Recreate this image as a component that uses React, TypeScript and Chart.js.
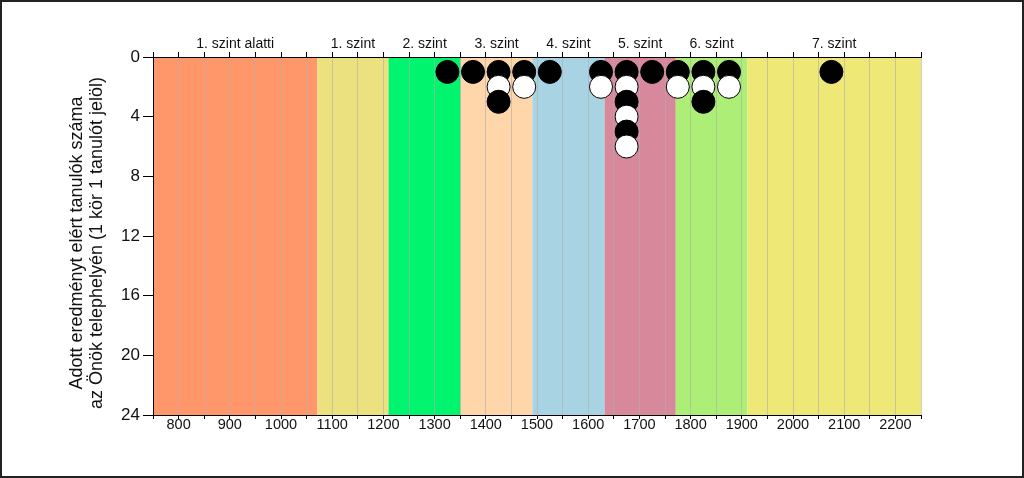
import React, { useEffect, useRef } from 'react';
import { Chart, registerables } from 'chart.js';

Chart.register(...registerables);

const FONT = "'Liberation Sans', Arial, Helvetica, sans-serif";

// Achievement level bands (x = score)
const bandLabels = ['1. szint alatti', '1. szint', '2. szint', '3. szint', '4. szint', '5. szint', '6. szint', '7. szint'];
const bandEdges = [750, 1071, 1210, 1351, 1491, 1632, 1771, 1911, 2250];
const bandColors = ['#FF976B', '#EBE17F', '#00F46E', '#FFD5AA', '#A7D3E3', '#D8889B', '#ADEE77', '#EEE977'];

// Students per 50-point score bin (bin centres)
const binCenters = [1325, 1375, 1425, 1475, 1525, 1625, 1675, 1725, 1775, 1825, 1875, 2075];
const studentCounts = [1, 1, 3, 2, 1, 2, 6, 1, 2, 3, 2, 1];

// Axes
const xMin = 750;
const xMax = 2250;
const xStep = 50;
const yMin = 0;
const yMax = 24;
const yStep = 4;
const yTitleLines = ['Adott eredményt elért tanulók száma', 'az Önök telephelyén (1 kör 1 tanulót jelöl)'];

export default function App() {
  const canvasRef = useRef<HTMLCanvasElement | null>(null);

  useEffect(() => {
    const canvas = canvasRef.current;
    if (!canvas) return;

    const points: { x: number; y: number }[] = [];
    const fills: string[] = [];
    binCenters.forEach((x, i) => {
      for (let k = 1; k <= studentCounts[i]; k++) {
        points.push({ x, y: k });
        fills.push(k % 2 === 1 ? '#000000' : '#FFFFFF');
      }
    });

    const bandsPlugin = {
      id: 'bands',
      beforeDraw(chart: any) {
        const { ctx, chartArea, scales } = chart;
        ctx.save();
        ctx.fillStyle = '#FFFFFF';
        ctx.fillRect(0, 0, chart.width, chart.height);
        const xs = scales.x;
        for (let i = 0; i < bandLabels.length; i++) {
          const a = xs.getPixelForValue(bandEdges[i]);
          const b = xs.getPixelForValue(bandEdges[i + 1]);
          ctx.fillStyle = bandColors[i];
          ctx.fillRect(a, chartArea.top, b - a, chartArea.bottom - chartArea.top);
        }
        ctx.restore();
      },
      afterDraw(chart: any) {
        const { ctx, chartArea, scales } = chart;
        const xs = scales.x;
        ctx.save();
        // band labels above the plot
        ctx.fillStyle = '#111111';
        ctx.font = `14px ${FONT}`;
        ctx.textAlign = 'center';
        ctx.textBaseline = 'middle';
        for (let i = 0; i < bandLabels.length; i++) {
          const a = xs.getPixelForValue(bandEdges[i]);
          const b = xs.getPixelForValue(bandEdges[i + 1]);
          ctx.fillText(bandLabels[i], (a + b) / 2, chartArea.top - 13);
        }
        // y axis title (two lines, rotated)
        ctx.font = `18px ${FONT}`;
        ctx.fillStyle = '#111111';
        const cy = 243;
        yTitleLines.forEach((line, i) => {
          ctx.save();
          ctx.translate(77 + i * 20, cy);
          ctx.rotate(-Math.PI / 2);
          ctx.fillText(line, 0, 0);
          ctx.restore();
        });
        // outer frame
        ctx.strokeStyle = '#222222';
        ctx.lineWidth = 2;
        ctx.strokeRect(1, 1, chart.width - 2, chart.height - 2);
        ctx.restore();
      },
    };

    const chart = new Chart(canvas, {
      type: 'scatter',
      data: {
        datasets: [
          {
            data: points,
            backgroundColor: fills,
            borderColor: '#000000',
            borderWidth: 1,
            pointRadius: 11.5,
            pointHoverRadius: 11.5,
          },
        ],
      },
      options: {
        responsive: false,
        animation: false,
        events: [],
        layout: { padding: { left: 0, right: 103, top: 0, bottom: 0 } },
        plugins: {
          legend: { display: false },
          tooltip: { enabled: false },
          title: { display: false },
        },
        scales: {
          x: {
            type: 'linear',
            position: 'bottom',
            min: xMin,
            max: xMax,
            afterFit: (s: any) => {
              s.height = 63;
            },
            afterBuildTicks: (s: any) => {
              const t: any[] = [];
              for (let v = xMin; v <= xMax; v += xStep) t.push({ value: v });
              s.ticks = t;
            },
            ticks: {
              autoSkip: false,
              maxRotation: 0,
              minRotation: 0,
              padding: -1,
              color: '#111111',
              font: { family: FONT, size: 14.5, lineHeight: 1 },
              callback: (v: any) => (Number(v) % 100 === 0 && Number(v) !== xMin ? String(v) : ''),
            },
            grid: {
              color: 'rgba(175,175,175,0.6)',
              lineWidth: 1,
              tickColor: '#000000',
              tickLength: 4,
              drawOnChartArea: true,
            },
            border: { display: true, color: '#000000', width: 1 },
          },
          x2: {
            type: 'linear',
            position: 'top',
            min: xMin,
            max: xMax,
            afterFit: (s: any) => {
              s.height = 57;
            },
            afterBuildTicks: (s: any) => {
              const t: any[] = [];
              for (let v = xMin; v <= xMax; v += xStep) t.push({ value: v });
              s.ticks = t;
            },
            ticks: { display: false, autoSkip: false },
            grid: {
              drawOnChartArea: false,
              tickColor: '#000000',
              tickLength: 5,
            },
            border: { display: true, color: '#000000', width: 1 },
          },
          y: {
            type: 'linear',
            position: 'left',
            reverse: true,
            min: yMin,
            max: yMax,
            afterFit: (s: any) => {
              s.width = 153;
            },
            ticks: {
              stepSize: yStep,
              padding: 3,
              color: '#111111',
              font: { family: FONT, size: 17 },
            },
            grid: {
              drawOnChartArea: false,
              tickColor: '#000000',
              tickLength: 10,
            },
            border: { display: true, color: '#000000', width: 1 },
          },
        },
      },
      plugins: [bandsPlugin],
    });

    return () => {
      chart.destroy();
    };
  }, []);

  return (
    <div style={{ position: 'fixed', left: 0, top: 0, width: 1024, height: 478, background: '#fff' }}>
      <canvas ref={canvasRef} width={1024} height={478} style={{ display: 'block', width: 1024, height: 478 }} />
    </div>
  );
}
